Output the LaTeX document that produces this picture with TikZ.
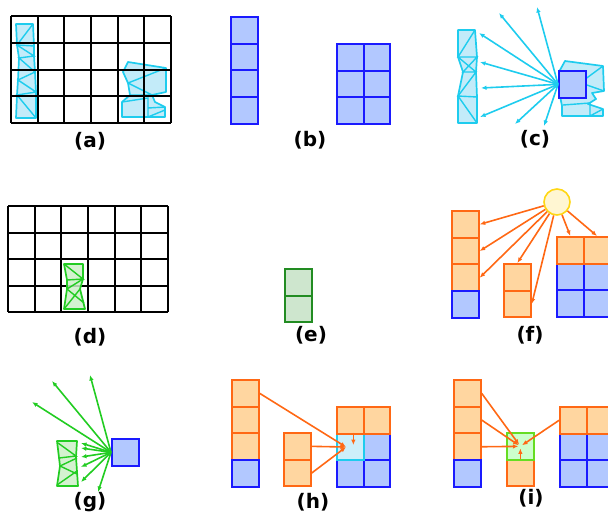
\documentclass[tikz,border=0pt]{standalone}
\usepackage{fontspec}
\setmainfont{DejaVu Sans}
\usetikzlibrary{arrows.meta}

\definecolor{bluedraw}{RGB}{26,26,255}
\definecolor{bluefill}{RGB}{178,200,255}
\definecolor{orangedraw}{RGB}{255,104,20}
\definecolor{orangefill}{RGB}{255,214,160}
\definecolor{cyandraw}{RGB}{30,204,238}
\definecolor{cyanfill}{RGB}{184,232,248}
\definecolor{greendraw}{RGB}{34,204,34}
\definecolor{greenfill}{RGB}{204,240,200}
\definecolor{darkgreendraw}{RGB}{34,140,34}
\definecolor{darkgreenfill}{RGB}{206,230,206}
\definecolor{limedraw}{RGB}{102,221,34}
\definecolor{limefill}{RGB}{204,255,204}
\definecolor{sundraw}{RGB}{255,215,20}
\definecolor{sunfill}{RGB}{255,246,210}

\tikzset{
  cell/.style={minimum width=26.7pt, minimum height=26.7pt, inner sep=0pt,
    line width=2pt, anchor=north west},
  bluecell/.style={cell, draw=bluedraw, fill=bluefill},
  orangecell/.style={cell, draw=orangedraw, fill=orangefill},
  gridline/.style={black, line width=2pt},
  cyanmesh/.style={draw=cyandraw, fill=cyanfill, fill opacity=0.85, line width=1.7pt, line join=round},
  cyanline/.style={cyandraw, line width=1.4pt},
  greenmesh/.style={draw=greendraw, fill=greenfill, fill opacity=0.85, line width=1.7pt, line join=round},
  greenline/.style={greendraw, line width=1.4pt},
  arrow/.style={line width=1.6pt, -{Latex[length=5.5pt,width=4.5pt]}},
  lab/.style={font=\bfseries\fontsize{20}{24}\selectfont}
}

\begin{document}
\begin{tikzpicture}[x=1pt, y=-1pt]
  \clip (0,0) rectangle (608,515);

  % (a) mesh on the grid
  \draw[cyanmesh] (16,24) -- (17,45) -- (19,58) -- (18,80) -- (17,95) -- (16,118)
    -- (36,118) -- (36,92) -- (35,72) -- (34,56) -- (34,46) -- (33,24) -- cycle;
  \draw[cyanline] (33,24) -- (17,45) -- (34,46) (17,45) -- (34,56) -- (19,58) -- (35,72)
    -- (18,80) -- (36,92) -- (17,95) -- (36,118);
  \draw[cyanmesh] (128,62) -- (166,68) -- (166,92) -- (152,95) -- (155,102) -- (165,107)
    -- (165,117) -- (122,117) -- (122,102) -- (130,95) -- (128,83) -- (123,72) -- cycle;
  \draw[cyanline] (128,83) -- (166,68) (130,95) -- (152,95) (128,83) -- (152,95)
    (122,102) -- (148,98) -- (148,117) (148,108) -- (165,107) (148,117) -- (165,110);
  % Square grid
  \foreach \i in {0,...,6}
    \draw[gridline] ({11+\i*26.67},16) -- ({11+\i*26.67},123);
  \foreach \j in {0,...,4}
    \draw[gridline] (11,{16+\j*26.75}) -- (171,{16+\j*26.75});
  \node[lab] (lab-a) at (90,141) {(a)};

  % (b) blocks
  \foreach \i in {1,...,4}
    \node[bluecell] (b-l\i) at (230,{16+(\i-1)*26.7}) {};
  \foreach \i in {1,2}{
    \foreach \j in {1,2,3}{
      \node[bluecell] (b-r\i\j) at ({336+(\i-1)*26.7},{43+(\j-1)*26.7}) {};
    }
  }
  \node[lab] (lab-b) at (310,140) {(b)};

  % (c) rays from the block
  \draw[cyanmesh] (458,30) -- (458,57) -- (463,72) -- (458,96) -- (458,123)
    -- (477,123) -- (477,97) -- (476,72) -- (477,57) -- (475,30) -- cycle;
  \draw[cyanline] (475,30) -- (458,57) -- (477,57) -- (463,72) -- (476,72) -- (458,96)
    -- (477,97) (458,57) -- (476,72) (458,96) -- (477,123);
  \draw[cyanmesh] (565,61) -- (603,66) -- (604,91) -- (592,93) -- (596,99) -- (588,104)
    -- (603,109) -- (603,116) -- (562,116) -- (562,106) -- (560,96) -- (560,70) -- cycle;
  \draw[cyanline] (584,80) -- (603,66) (584,84) -- (604,91) (563,105) -- (590,103)
    -- (590,116) (590,116) -- (603,109);
  \node[bluecell] (c-sq) at (558,70) {};
  \coordinate (c-e1) at (499,13);
  \coordinate (c-e2) at (537,7);
  \coordinate (c-e3) at (479,33);
  \coordinate (c-e4) at (480,62);
  \coordinate (c-e5) at (481,88);
  \coordinate (c-e6) at (480,117);
  \coordinate (c-e7) at (515,124);
  \coordinate (c-e8) at (544,126);
  \foreach \k in {1,...,8}
    \draw[arrow, cyandraw] (c-sq.west) -- (c-e\k);
  \node[lab] (lab-c) at (535,139) {(c)};

  % (d) mesh on the grid
  \foreach \i in {0,...,6}
    \draw[gridline] ({8+\i*26.67},206) -- ({8+\i*26.67},312);
  \foreach \j in {0,...,4}
    \draw[gridline] (8,{206+\j*26.5}) -- (168,{206+\j*26.5});
  \draw[greenmesh] (64,264) -- (83,264) -- (83,279) -- (80,289) -- (85,309) -- (64,309)
    -- (67,289) -- (67,280) -- cycle;
  \draw[greenline] (64,264) -- (83,279) -- (67,280) (67,289) -- (83,279)
    (67,289) -- (84,303) (64,309) -- (80,289);
  \node[lab] (lab-d) at (90,337) {(d)};

  % (e) green cells
  \foreach \i in {1,2}
    \node[cell, draw=darkgreendraw, fill=darkgreenfill] (e-\i) at (284,{268+(\i-1)*26.7}) {};
  \node[lab] (lab-e) at (311,335) {(e)};

  % (f) light source
  \foreach \i in {1,2,3}
    \node[orangecell] (f-l\i) at (451,{210+(\i-1)*26.7}) {};
  \node[bluecell] (f-l4) at (451,290.1) {};
  \foreach \i in {1,2}
    \node[orangecell] (f-m\i) at (503,{263+(\i-1)*26.7}) {};
  \foreach \i in {1,2}{
    \node[bluecell] (f-r\i2) at ({556+(\i-1)*26.7},262.7) {};
    \node[bluecell] (f-r\i3) at ({556+(\i-1)*26.7},289.4) {};
  }
  \foreach \i in {1,2}
    \node[orangecell] (f-r\i1) at ({556+(\i-1)*26.7},236) {};
  \node[circle, minimum size=26pt, inner sep=0pt, draw=sundraw, fill=sunfill,
    line width=1.6pt] (sun) at (557,202) {};
  \foreach \t in {f-l1.east, f-l2.east, f-l3.east, f-m1.north, f-m2.east,
      f-r11.north, f-r21.north}
    \draw[arrow, orangedraw] (sun) -- (\t);
  \node[lab] (lab-f) at (530,335) {(f)};

  % (g) rays from the block
  \draw[greenmesh] (57,441) -- (77,441) -- (76,457) -- (78,486) -- (57,486) -- (60,466)
    -- cycle;
  \draw[greenline] (58,443) -- (76,456) -- (59,458) (60,466) -- (77,458)
    (60,466) -- (77,474) (57,485) -- (77,471);
  \node[bluecell] (g-sq) at (111,438) {};
  \coordinate (g-e1) at (32,402);
  \coordinate (g-e2) at (52,381);
  \coordinate (g-e3) at (90,375);
  \coordinate (g-e4) at (81,443);
  \coordinate (g-e5) at (81,448);
  \coordinate (g-e6) at (81,457);
  \coordinate (g-e7) at (81,467);
  \coordinate (g-e8) at (81,482);
  \coordinate (g-e9) at (98,492);
  \foreach \k in {1,...,9}
    \draw[arrow, greendraw] (g-sq.west) -- (g-e\k);
  \node[lab] (lab-g) at (90,502) {(g)};

  % (h) gather into the cyan cell
  \foreach \i in {1,2,3}
    \node[orangecell] (h-l\i) at (231,{379+(\i-1)*26.7}) {};
  \node[bluecell] (h-l4) at (231,459.1) {};
  \foreach \i in {1,2}
    \node[orangecell] (h-m\i) at (283,{432+(\i-1)*26.7}) {};
  \node[bluecell] (h-r22) at (362.7,432.7) {};
  \node[bluecell] (h-r13) at (336,459.4) {};
  \node[bluecell] (h-r23) at (362.7,459.4) {};
  \node[cell, draw=cyandraw, fill=cyanfill!70] (h-c) at (336,432.7) {};
  \node[orangecell] (h-r11) at (336,406) {};
  \node[orangecell] (h-r21) at (362.7,406) {};
  \coordinate (h-in) at (346,447);
  \foreach \s in {h-l1.east, h-m1.east, h-m2.east}
    \draw[arrow, orangedraw] (\s) -- (h-in);
  \draw[arrow, orangedraw, shorten >=2pt] ([xshift=3pt]h-c.north) -- ([xshift=3pt]h-c.center);
  \node[lab] (lab-h) at (313,502) {(h)};

  % (i) gather into the green cell
  \foreach \i in {1,2,3}
    \node[orangecell] (i-l\i) at (453,{379+(\i-1)*26.7}) {};
  \node[bluecell] (i-l4) at (453,459.1) {};
  \node[orangecell] (i-m) at (506,458.7) {};
  \node[cell, draw=limedraw, fill=limefill] (i-g) at (506,432) {};
  \foreach \i in {1,2}{
    \node[bluecell] (i-r\i2) at ({559+(\i-1)*26.7},432.7) {};
    \node[bluecell] (i-r\i3) at ({559+(\i-1)*26.7},459.4) {};
  }
  \foreach \i in {1,2}
    \node[orangecell] (i-r\i1) at ({559+(\i-1)*26.7},406) {};
  \foreach \s in {i-l1.east, i-l2.east, i-l3.east, i-r11.west, i-m.north}
    \draw[arrow, orangedraw, shorten >=2pt] (\s) -- (i-g.center);
  \node[lab] (lab-i) at (531,498) {(i)};
\end{tikzpicture}
\end{document}
